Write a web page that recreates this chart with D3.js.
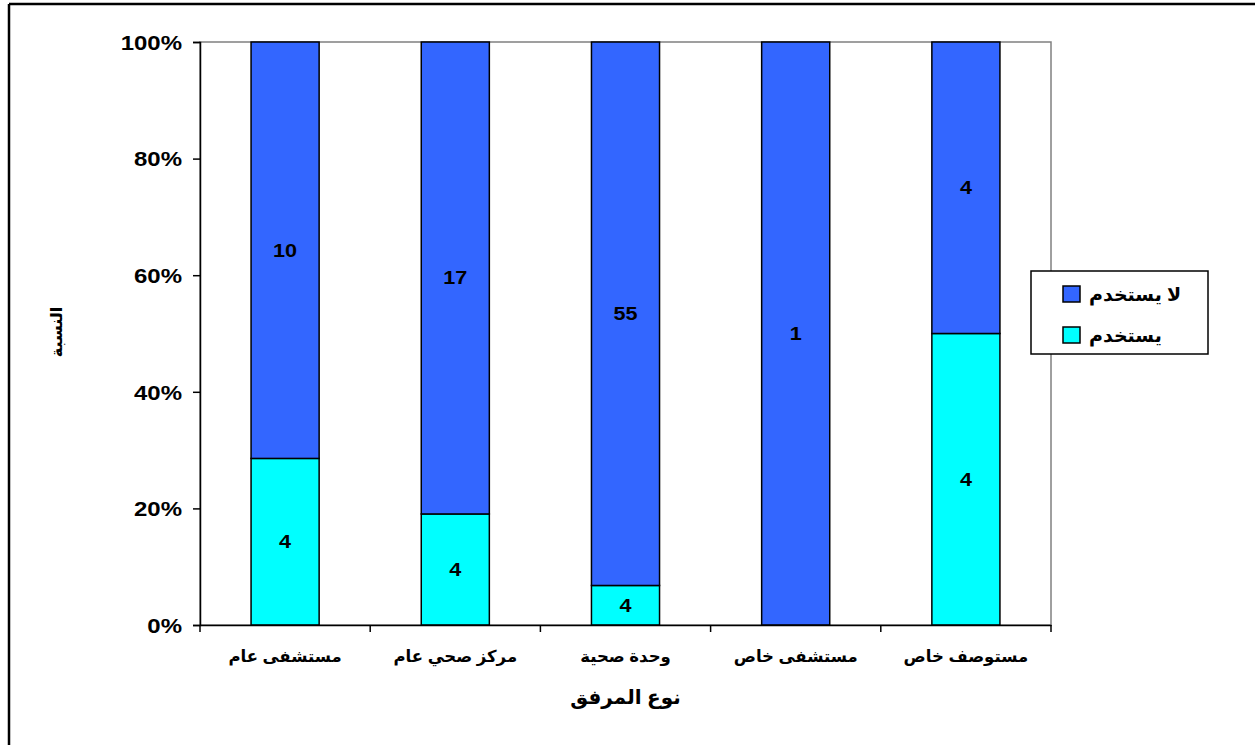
<!DOCTYPE html>
<html><head><meta charset="utf-8">
<script src="https://cdn.jsdelivr.net/npm/d3@7"></script>
<style>
body{margin:0;background:#fff;}
text{font-family:"Liberation Sans",Arial,"DejaVu Sans",sans-serif;font-weight:bold;fill:#000;}
</style></head>
<body>
<svg id="c" width="1255" height="745"></svg>
<script>
const categories = ["مستشفى عام","مركز صحي عام","وحدة صحية","مستشفى خاص","مستوصف خاص"];
const useCounts = [4,4,4,0,4];
const notUseCounts = [10,17,55,1,4];
const seriesNames = ["يستخدم","لا يستخدم"];
const yTicks = [0,0.2,0.4,0.6,0.8,1];
const xTitle = "نوع المرفق";
const yTitle = "النسبة";

const colors = {use:"#00FFFF", notUse:"#3366FF"};
const svg = d3.select("#c");
const L=200,R=1051,T=42,B=625;
const SX=1.2;

// outer border (top and left visible)
svg.append("line").attr("x1",9).attr("x2",1255).attr("y1",4).attr("y2",4).attr("stroke","#000").attr("stroke-width",2.5);
svg.append("line").attr("x1",9).attr("x2",9).attr("y1",4).attr("y2",745).attr("stroke","#000").attr("stroke-width",2.5);

// plot area border
svg.append("rect").attr("x",L).attr("y",T).attr("width",R-L).attr("height",B-T)
  .attr("fill","#fff").attr("stroke","#808080").attr("stroke-width",1.5);

const x = d3.scaleBand().domain(categories).range([L,R]).paddingInner(0.6).paddingOuter(0.3);
const y = d3.scaleLinear().domain([0,1]).range([B,T]);

const data = categories.map((c,i)=>{
  const tot = useCounts[i]+notUseCounts[i];
  return {c, use:useCounts[i], notUse:notUseCounts[i], pu:useCounts[i]/tot};
});

// bars
const g = svg.append("g");
data.forEach(d=>{
  if(d.use>0) g.append("rect").attr("x",x(d.c)).attr("width",x.bandwidth())
    .attr("y",y(d.pu)).attr("height",y(0)-y(d.pu))
    .attr("fill",colors.use).attr("stroke","#000").attr("stroke-width",1.5);
  if(d.notUse>0) g.append("rect").attr("x",x(d.c)).attr("width",x.bandwidth())
    .attr("y",y(1)).attr("height",y(d.pu)-y(1))
    .attr("fill",colors.notUse).attr("stroke","#000").attr("stroke-width",1.5);
});

// data labels
data.forEach(d=>{
  const cx = x(d.c)+x.bandwidth()/2;
  if(d.use>0){
    svg.append("g").attr("transform",`translate(${cx},${y(d.pu/2)}) scale(${SX},1)`)
      .append("text").attr("text-anchor","middle").attr("dy","0.36em").style("font-size","18px").text(d.use);
  }
  if(d.notUse>0){
    svg.append("g").attr("transform",`translate(${cx},${y((d.pu+1)/2)}) scale(${SX},1)`)
      .append("text").attr("text-anchor","middle").attr("dy","0.36em").style("font-size","18px").text(d.notUse);
  }
});

// y axis
const ya = svg.append("g").attr("transform",`translate(${L},0)`)
  .call(d3.axisLeft(y).tickValues(yTicks).tickFormat(d3.format(".0%")).tickSize(7).tickPadding(8));
ya.select(".domain").attr("stroke","#000").attr("stroke-width",1.5);
ya.selectAll(".tick line").attr("stroke","#000").attr("stroke-width",1.5);
ya.selectAll(".tick text").style("font-size","20px").attr("transform",`scale(${SX},1)`).attr("dy","0.36em");

// x axis
const xa = svg.append("g").attr("transform",`translate(0,${B})`)
  .call(d3.axisBottom(x).tickSize(0).tickPadding(25));
xa.select(".domain").attr("stroke","#000").attr("stroke-width",1.5);
xa.selectAll(".tick text").style("font-size","16.5px");
const step = x.step();
const bounds = categories.map(c=>x(c)-step*x.paddingInner()/2).concat([x(categories[categories.length-1])+x.bandwidth()+step*x.paddingInner()/2]);
bounds.forEach(b=>{
  svg.append("line").attr("x1",b).attr("x2",b).attr("y1",B).attr("y2",B+7).attr("stroke","#000").attr("stroke-width",1.5);
});

// axis titles
svg.append("text").attr("x",(L+R)/2).attr("y",704).attr("text-anchor","middle").style("font-size","20px").text(xTitle);
svg.append("text").attr("transform",`translate(62,332) rotate(-90)`)
  .attr("text-anchor","middle").style("font-size","16px").text(yTitle);

// legend
const lg = svg.append("g");
lg.append("rect").attr("x",1031).attr("y",271).attr("width",177).attr("height",83)
  .attr("fill","#fff").attr("stroke","#000").attr("stroke-width",1.5);
const legendItems = [{name:seriesNames[1],color:colors.notUse},{name:seriesNames[0],color:colors.use}];
legendItems.forEach((it,i)=>{
  const yy = 294 + i*41;
  lg.append("rect").attr("x",1063).attr("y",yy-8).attr("width",17).attr("height",16)
    .attr("fill",it.color).attr("stroke","#000").attr("stroke-width",1.5);
  lg.append("text").attr("x",1089).attr("y",yy).attr("text-anchor","start").attr("dy","0.36em").style("font-size","19px").text(it.name);
});
</script>
</body></html>
